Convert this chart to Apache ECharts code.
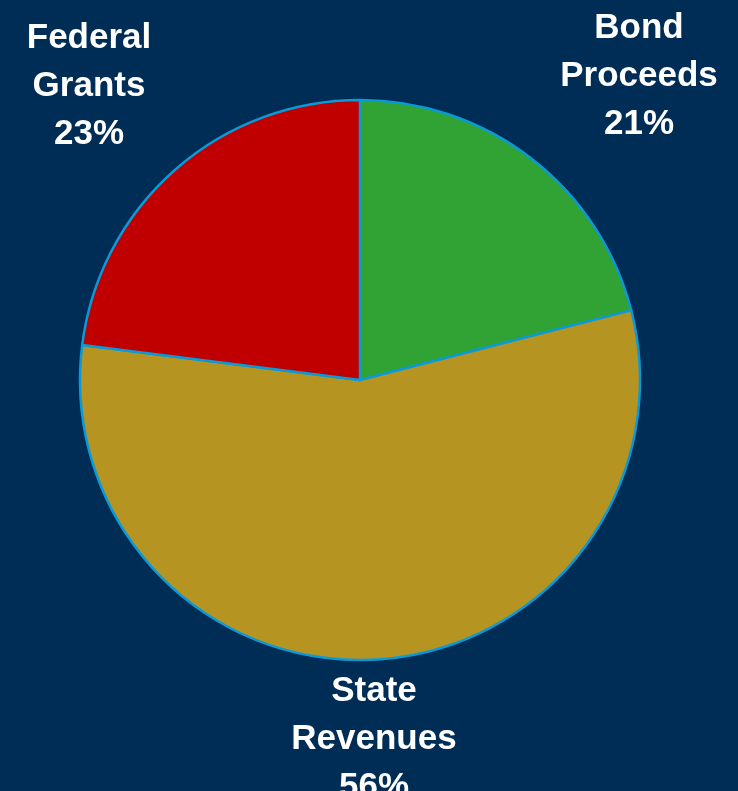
<!DOCTYPE html>
<html>
<head>
<meta charset="utf-8">
<style>
  html, body { margin: 0; padding: 0; background: #002d56; }
  #main { width: 738px; height: 791px; }
</style>
<script src="https://cdn.jsdelivr.net/npm/echarts@6/dist/echarts.min.js"></script>
</head>
<body>
<div id="main"></div>
<script>
// funding sources, clockwise from 12 o'clock
var names = ['Bond Proceeds', 'State Revenues', 'Federal Grants'];
var shares = [21, 56, 23];
var colors = ['#31a335', '#b59421', '#c00000'];

// where each label block sits (centre of the three lines)
var labelPos = [[639, 76], [374, 739], [89, 86]];

var data = [];
for (var i = 0; i < names.length; i++) {
    data.push({
        name: names[i],
        value: shares[i],
        itemStyle: { color: colors[i] }
    });
}

var myChart = echarts.init(document.getElementById('main'));
var option = {
    backgroundColor: '#002d56',
    animation: false,
    series: [{
        type: 'pie',
        center: [360, 380],
        radius: 280,
        startAngle: 90,
        clockwise: true,
        data: data,
        itemStyle: {
            borderColor: '#0a9ad8',
            borderWidth: 2.5
        },
        label: {
            show: true,
            position: 'outside',
            color: '#ffffff',
            fontFamily: 'Liberation Sans, Arial, sans-serif',
            fontWeight: 'bold',
            fontSize: 35,
            lineHeight: 48,
            align: 'center',
            overflow: 'none',
            width: 400,
            formatter: function (p) {
                return p.name.replace(' ', '\n') + '\n' + p.value + '%';
            }
        },
        labelLine: { show: false },
        labelLayout: function (params) {
            var pos = labelPos[params.dataIndex];
            return {
                x: pos[0],
                y: pos[1],
                align: 'center',
                verticalAlign: 'middle'
            };
        },
        emphasis: { disabled: true }
    }]
};
myChart.setOption(option);
window.onresize = myChart.resize;
</script>
</body>
</html>
